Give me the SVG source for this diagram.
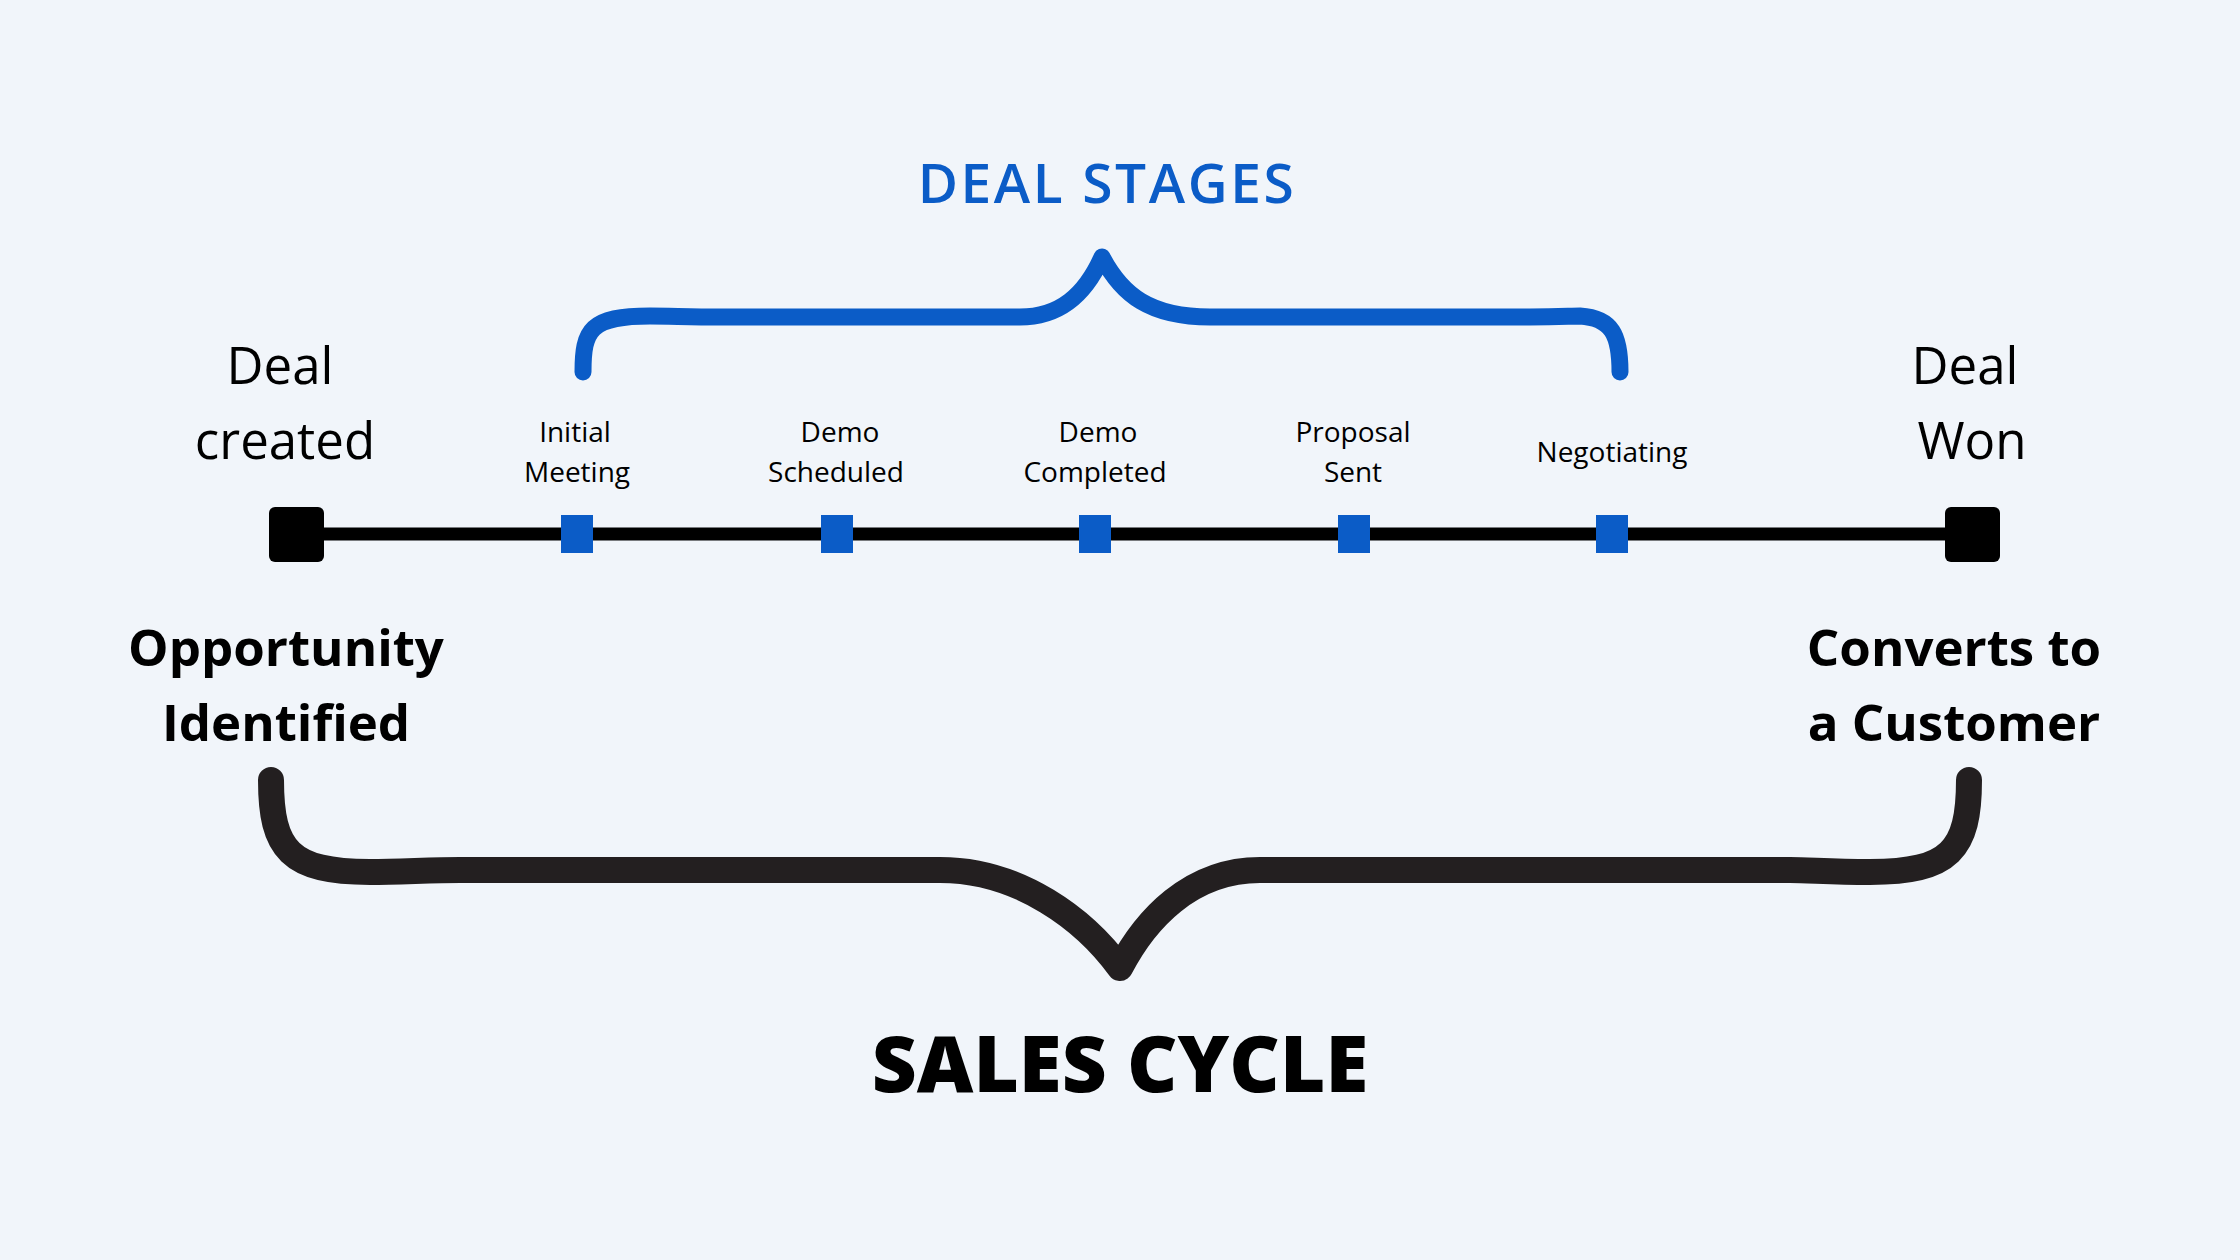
<svg xmlns="http://www.w3.org/2000/svg" width="2240" height="1260" viewBox="0 0 2240 1260">
<style>
.t{font-family:"Open Sans","Noto Sans",sans-serif;text-anchor:middle;fill:#000}
.big{font-size:51px;font-weight:400}
.bold{font-size:51px;font-weight:700}
.stage{font-size:28px;font-weight:400}
.title{font-size:55px;font-weight:600;fill:#0b5cc7;letter-spacing:2.6px}
.main{font-size:78px;font-weight:800}
.blue{fill:#0b5cc7}
.end{fill:#000}
</style>
<rect width="2240" height="1260" fill="#f1f5fa"/>
<g id="connectors">
<line x1="296" y1="534" x2="1972" y2="534" stroke="#000" stroke-width="13"/>
<path id="deal-stages-brace" d="M583,372 C583,330 590,316 650,316 C670,316 690,317 720,317 L1020,317 C1060,317 1085,295 1102,257 C1122,295 1150,317 1210,317 L1530,317 C1560,317 1570,316 1580,316 C1612,318 1620,335 1620,372" fill="none" stroke="#0b5cc7" stroke-width="17" stroke-linecap="round" stroke-linejoin="round"/>
<path id="sales-cycle-brace" d="M271,780 C271,850 290,872 370,872 C400,872 430,870 460,870 L940,870 C1020,870 1085,920 1120,968 C1145,920 1190,870 1260,870 L1790,870 C1810,870 1830,872 1870,872 C1950,872 1969,850 1969,780" fill="none" stroke="#231f20" stroke-width="26" stroke-linecap="round" stroke-linejoin="round"/>
</g>
<g id="deal-created">
<rect class="end" x="269" y="507" width="55" height="55" rx="6"/>
<text class="t big" x="280" y="384">Deal</text>
<text class="t big" x="285" y="459">created</text>
</g>
<g id="opportunity">
<text class="t bold" x="286" y="666">Opportunity</text>
<text class="t bold" x="286" y="741">Identified</text>
</g>
<g id="stage-initial-meeting">
<rect class="blue" x="561" y="515" width="32" height="38"/>
<text class="t stage" x="575" y="442">Initial</text>
<text class="t stage" x="577" y="482">Meeting</text>
</g>
<g id="stage-demo-scheduled">
<rect class="blue" x="821" y="515" width="32" height="38"/>
<text class="t stage" x="840" y="442">Demo</text>
<text class="t stage" x="836" y="482">Scheduled</text>
</g>
<g id="stage-demo-completed">
<rect class="blue" x="1079" y="515" width="32" height="38"/>
<text class="t stage" x="1098" y="442">Demo</text>
<text class="t stage" x="1095" y="482">Completed</text>
</g>
<g id="stage-proposal-sent">
<rect class="blue" x="1338" y="515" width="32" height="38"/>
<text class="t stage" x="1353" y="442">Proposal</text>
<text class="t stage" x="1353" y="482">Sent</text>
</g>
<g id="stage-negotiating">
<rect class="blue" x="1596" y="515" width="32" height="38"/>
<text class="t stage" x="1612" y="462">Negotiating</text>
</g>
<g id="deal-won">
<rect class="end" x="1945" y="507" width="55" height="55" rx="6"/>
<text class="t big" x="1965" y="384">Deal</text>
<text class="t big" x="1972" y="459">Won</text>
</g>
<g id="converts">
<text class="t bold" x="1954" y="666">Converts to</text>
<text class="t bold" x="1954" y="741">a Customer</text>
</g>
<g id="labels">
<text class="t title" x="1107" y="203">DEAL STAGES</text>
<text class="t main" x="1120" y="1092">SALES CYCLE</text>
</g>
</svg>
